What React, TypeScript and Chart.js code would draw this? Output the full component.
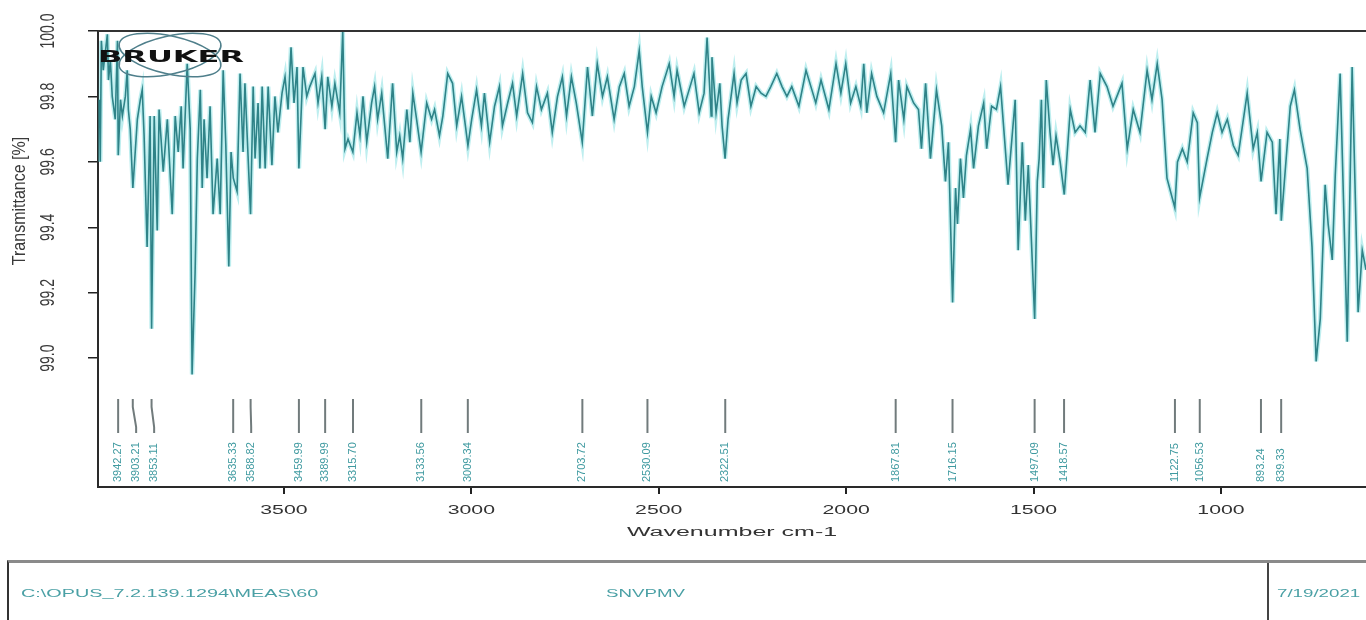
import React, { useEffect, useRef } from "react";
import { Chart, registerables } from "chart.js";

Chart.register(...registerables);

// ---- Data ----
const wavenumbers: number[] = [
  3992, 3990, 3987, 3982, 3976, 3971, 3968, 3963, 3958, 3950,
  3944, 3942, 3936, 3931, 3923, 3918, 3915, 3910, 3903, 3891,
  3883, 3878, 3873, 3865, 3857, 3853, 3846, 3838, 3833, 3822,
  3811, 3798, 3790, 3782, 3774, 3769, 3758, 3750, 3745, 3737,
  3731, 3723, 3718, 3713, 3705, 3697, 3689, 3678, 3670, 3662,
  3655, 3647, 3641, 3635, 3625, 3617, 3609, 3604, 3598, 3589,
  3582, 3577, 3569, 3564, 3558, 3550, 3542, 3532, 3524, 3516,
  3505, 3497, 3489, 3481, 3473, 3465, 3460, 3449, 3439, 3431,
  3417, 3409, 3399, 3390, 3383, 3372, 3364, 3351, 3343, 3337,
  3329, 3316, 3305, 3297, 3289, 3279, 3266, 3258, 3250, 3239,
  3231, 3223, 3210, 3199, 3191, 3183, 3172, 3164, 3156, 3146,
  3134, 3119, 3106, 3098, 3085, 3076, 3063, 3050, 3039, 3026,
  3018, 3009, 2999, 2986, 2973, 2965, 2951, 2938, 2925, 2917,
  2903, 2890, 2879, 2863, 2850, 2837, 2826, 2813, 2797, 2784,
  2770, 2757, 2746, 2733, 2720, 2704, 2690, 2677, 2664, 2650,
  2637, 2619, 2605, 2592, 2579, 2565, 2552, 2544, 2530, 2520,
  2507, 2491, 2472, 2459, 2451, 2432, 2419, 2406, 2392, 2379,
  2371, 2360, 2358, 2347, 2337, 2331, 2323, 2315, 2307, 2299,
  2291, 2280, 2267, 2254, 2240, 2227, 2214, 2201, 2185, 2171,
  2158, 2145, 2126, 2107, 2094, 2081, 2067, 2046, 2027, 2014,
  2001, 1988, 1974, 1961, 1953, 1945, 1932, 1918, 1900, 1881,
  1868, 1860, 1846, 1838, 1820, 1807, 1799, 1788, 1775, 1759,
  1745, 1735, 1727, 1716, 1708, 1703, 1695, 1687, 1679, 1668,
  1660, 1647, 1633, 1625, 1612, 1599, 1588, 1580, 1568, 1557,
  1549, 1541, 1530, 1522, 1514, 1497, 1490, 1485, 1479, 1474,
  1466, 1456, 1448, 1440, 1429, 1418, 1402, 1389, 1376, 1362,
  1349, 1336, 1322, 1304, 1288, 1264, 1250, 1234, 1216, 1197,
  1184, 1170, 1157, 1144, 1123, 1116, 1103, 1090, 1074, 1063,
  1057, 1037, 1023, 1010, 997, 983, 967, 954, 930, 914,
  903, 893, 877, 863, 853, 843, 839, 815, 804, 789,
  770, 757, 746, 735, 722, 714, 703, 695, 682, 663,
  650, 634, 623, 613,
];

const transmittance: number[] = [
  99.79, 99.6, 99.97, 99.88, 99.94, 99.99, 99.85, 99.91, 99.8, 99.73,
  99.97, 99.62, 99.79, 99.74, 99.8, 99.88, 99.76, 99.7, 99.52, 99.73,
  99.79, 99.82, 99.68, 99.34, 99.74, 99.09, 99.74, 99.39, 99.76, 99.57,
  99.73, 99.44, 99.74, 99.63, 99.77, 99.58, 99.9, 99.7, 98.95, 99.26,
  99.61, 99.82, 99.52, 99.73, 99.55, 99.77, 99.44, 99.61, 99.44, 99.88,
  99.65, 99.28, 99.63, 99.55, 99.51, 99.87, 99.63, 99.84, 99.68, 99.44,
  99.83, 99.61, 99.78, 99.58, 99.83, 99.58, 99.83, 99.59, 99.8, 99.69,
  99.81, 99.86, 99.76, 99.95, 99.78, 99.89, 99.58, 99.89, 99.8, 99.83,
  99.87, 99.78, 99.86, 99.7, 99.86, 99.77, 99.84, 99.75, 100.0, 99.64,
  99.67, 99.63, 99.75, 99.68, 99.8, 99.66, 99.78, 99.83, 99.73, 99.81,
  99.71, 99.61, 99.84, 99.63, 99.68, 99.61, 99.76, 99.66, 99.81, 99.73,
  99.63, 99.78, 99.73, 99.76, 99.68, 99.74, 99.87, 99.84, 99.71, 99.8,
  99.73, 99.65, 99.73, 99.82, 99.71, 99.81, 99.66, 99.77, 99.83, 99.71,
  99.78, 99.84, 99.74, 99.87, 99.75, 99.72, 99.83, 99.76, 99.81, 99.69,
  99.8, 99.86, 99.74, 99.86, 99.78, 99.66, 99.89, 99.74, 99.9, 99.8,
  99.86, 99.73, 99.83, 99.87, 99.77, 99.83, 99.94, 99.83, 99.69, 99.8,
  99.75, 99.83, 99.9, 99.8, 99.88, 99.77, 99.82, 99.87, 99.75, 99.81,
  99.98, 99.74, 99.92, 99.75, 99.84, 99.71, 99.61, 99.73, 99.8, 99.87,
  99.78, 99.85, 99.87, 99.77, 99.83, 99.81, 99.8, 99.83, 99.87, 99.83,
  99.8, 99.83, 99.77, 99.88, 99.83, 99.78, 99.85, 99.76, 99.9, 99.81,
  99.9, 99.78, 99.83, 99.77, 99.9, 99.75, 99.87, 99.8, 99.75, 99.87,
  99.66, 99.85, 99.73, 99.83, 99.78, 99.76, 99.64, 99.84, 99.61, 99.82,
  99.71, 99.54, 99.66, 99.17, 99.52, 99.41, 99.61, 99.49, 99.62, 99.7,
  99.58, 99.71, 99.78, 99.64, 99.77, 99.76, 99.83, 99.71, 99.53, 99.68,
  99.79, 99.33, 99.66, 99.42, 99.59, 99.12, 99.54, 99.61, 99.79, 99.52,
  99.85, 99.69, 99.59, 99.68, 99.6, 99.5, 99.76, 99.69, 99.71, 99.69,
  99.85, 99.69, 99.87, 99.83, 99.77, 99.84, 99.64, 99.76, 99.69, 99.88,
  99.79, 99.9, 99.79, 99.55, 99.46, 99.6, 99.64, 99.6, 99.75, 99.72,
  99.49, 99.61, 99.69, 99.75, 99.69, 99.73, 99.65, 99.62, 99.81, 99.64,
  99.69, 99.54, 99.69, 99.66, 99.44, 99.67, 99.42, 99.77, 99.82, 99.7,
  99.58, 99.34, 98.99, 99.12, 99.53, 99.41, 99.3, 99.56, 99.87, 99.05,
  99.89, 99.14, 99.33, 99.27,
];

const peakPositions: number[] = [
  3942.27, 3903.21, 3853.11, 3635.33, 3588.82, 3459.99, 3389.99, 3315.7,
  3133.56, 3009.34, 2703.72, 2530.09, 2322.51, 1867.81, 1716.15, 1497.09,
  1418.57, 1122.75, 1056.53, 893.24, 839.33,
];
const peakLabels: string[] = [
  "3942.27", "3903.21", "3853.11", "3635.33", "3588.82", "3459.99", "3389.99", "3315.70",
  "3133.56", "3009.34", "2703.72", "2530.09", "2322.51", "1867.81", "1716.15", "1497.09",
  "1418.57", "1122.75", "1056.53", "893.24", "839.33",
];

const xTickValues: number[] = [3500, 3000, 2500, 2000, 1500, 1000];
const xTickLabels: string[] = ["3500", "3000", "2500", "2000", "1500", "1000"];
const yTickValues: number[] = [99.0, 99.2, 99.4, 99.6, 99.8, 100.0];
const yTickLabels: string[] = ["99.0", "99.2", "99.4", "99.6", "99.8", "100.0"];

const xAxisTitle = "Wavenumber cm-1";
const yAxisTitle = "Transmittance [%]";
const logoText = "BRUKER";
const footerPath = "C:\\OPUS_7.2.139.1294\\MEAS\\60";
const footerSample = "SNVPMV";
const footerDate = "7/19/2021";

const X_MIN = 613;
const X_MAX = 3996;
const Y_MIN = 98.606;
const Y_MAX = 100.0;

const FONT = "'Liberation Sans', Arial, Helvetica, sans-serif";

const decorPlugin = {
  id: "opusDecor",
  afterDraw(chart: any) {
    const { ctx, chartArea: a, scales } = chart;
    const xs = scales.x;
    const ys = scales.y;
    ctx.save();

    // top frame line
    ctx.strokeStyle = "#333";
    ctx.lineWidth = 2;
    ctx.beginPath();
    ctx.moveTo(a.left, a.top);
    ctx.lineTo(a.right, a.top);
    ctx.stroke();

    // peak markers and labels
    let prevLabelX = -Infinity;
    peakPositions.forEach((p, i) => {
      const px = xs.getPixelForValue(p);
      const lx = Math.max(px, prevLabelX + 18);
      prevLabelX = lx;
      ctx.strokeStyle = "#717b7c";
      ctx.lineWidth = 2;
      ctx.beginPath();
      ctx.moveTo(px, a.bottom - 88);
      ctx.lineTo(px, a.bottom - 80);
      ctx.lineTo(lx, a.bottom - 60);
      ctx.lineTo(lx, a.bottom - 54);
      ctx.stroke();
      ctx.save();
      ctx.translate(lx, a.bottom - 5);
      ctx.rotate(-Math.PI / 2);
      ctx.font = `11px ${FONT}`;
      ctx.fillStyle = "#3f9aa0";
      ctx.textAlign = "left";
      ctx.textBaseline = "middle";
      ctx.fillText(peakLabels[i], 0, 0);
      ctx.restore();
    });

    // y tick labels (rotated)
    ctx.fillStyle = "#3a3a3a";
    ctx.font = `14px ${FONT}`;
    ctx.textAlign = "center";
    ctx.textBaseline = "middle";
    yTickValues.forEach((v, i) => {
      const py = ys.getPixelForValue(v);
      ctx.save();
      ctx.translate(a.left - 50, py);
      ctx.rotate(-Math.PI / 2);
      ctx.scale(1, 1.5);
      ctx.fillText(yTickLabels[i], 0, 0);
      ctx.restore();
    });

    // y title
    ctx.save();
    ctx.translate(a.left - 78, a.top + 170);
    ctx.rotate(-Math.PI / 2);
    ctx.scale(1, 1.15);
    ctx.font = `16px ${FONT}`;
    ctx.fillStyle = "#3a3a3a";
    ctx.fillText(yAxisTitle, 0, 0);
    ctx.restore();

    // x tick labels
    ctx.font = `12.5px ${FONT}`;
    ctx.fillStyle = "#333";
    xTickValues.forEach((v, i) => {
      const px = xs.getPixelForValue(v);
      ctx.save();
      ctx.translate(px, a.bottom + 24);
      ctx.scale(1.7, 1);
      ctx.fillText(xTickLabels[i], 0, 0);
      ctx.restore();
    });

    // x title
    ctx.save();
    ctx.translate((a.left + a.right) / 2, a.bottom + 46);
    ctx.scale(2.0, 1);
    ctx.font = `12.5px ${FONT}`;
    ctx.fillStyle = "#333";
    ctx.fillText(xAxisTitle, 0, 0);
    ctx.restore();

    // Bruker logo
    const cx = a.left + 72;
    const cy = a.top + 24;
    ctx.strokeStyle = "#4f7f8b";
    ctx.lineWidth = 1.5;
    ctx.beginPath();
    ctx.ellipse(cx, cy, 52, 19, 0.22, 0, Math.PI * 2);
    ctx.stroke();
    ctx.beginPath();
    ctx.ellipse(cx, cy, 52, 19, -0.22, 0, Math.PI * 2);
    ctx.stroke();
    ctx.save();
    ctx.font = `bold 16px 'DejaVu Sans', ${FONT}`;
    const w = ctx.measureText(logoText).width;
    ctx.translate(a.left, a.top + 31);
    ctx.scale(146 / w, 1);
    ctx.fillStyle = "#111";
    ctx.textAlign = "left";
    ctx.textBaseline = "alphabetic";
    ctx.fillText(logoText, 0, 0);
    ctx.restore();

    ctx.restore();
  },
};

export default function App() {
  const canvasRef = useRef<HTMLCanvasElement | null>(null);

  useEffect(() => {
    const canvas = canvasRef.current;
    if (!canvas) return;
    const points = wavenumbers.map((wn, i) => ({ x: wn, y: transmittance[i] }));
    const chart = new Chart(canvas, {
      type: "line",
      data: {
        datasets: [
          {
            data: points,
            borderColor: "#2f8388",
            borderWidth: 1.6,
            pointRadius: 0,
            tension: 0,
            fill: false,
          },
          {
            data: points,
            borderColor: "rgba(70, 205, 210, 0.35)",
            borderWidth: 4.5,
            pointRadius: 0,
            tension: 0,
            fill: false,
          },
        ],
      },
      options: {
        responsive: false,
        animation: false,
        events: [],
        layout: { padding: { top: 31, left: 0, right: 0, bottom: 73 } },
        plugins: {
          legend: { display: false },
          tooltip: { enabled: false },
        },
        scales: {
          x: {
            type: "linear",
            min: X_MIN,
            max: X_MAX,
            reverse: true,
            afterBuildTicks: (s: any) => {
              s.ticks = xTickValues.map((v) => ({ value: v }));
            },
            afterFit: (s: any) => {
              s.height = 60;
            },
            ticks: { display: false },
            grid: {
              drawOnChartArea: false,
              drawTicks: true,
              tickLength: 7,
              color: "#222",
              lineWidth: 2,
            },
            border: { display: true, color: "#2a2a2a", width: 2 },
          },
          y: {
            type: "linear",
            min: Y_MIN,
            max: Y_MAX,
            afterBuildTicks: (s: any) => {
              s.ticks = yTickValues.map((v) => ({ value: v }));
            },
            afterFit: (s: any) => {
              s.width = 98;
            },
            ticks: { display: false },
            grid: {
              drawOnChartArea: false,
              drawTicks: true,
              tickLength: 10,
              color: "#222",
              lineWidth: 1.5,
            },
            border: { display: true, color: "#2a2a2a", width: 2 },
          },
        },
      },
      plugins: [decorPlugin],
    } as any);
    return () => chart.destroy();
  }, []);

  const footerText: React.CSSProperties = {
    position: "absolute",
    top: 27,
    fontFamily: FONT,
    fontSize: 11,
    lineHeight: "12px",
    color: "#4aa0a5",
    whiteSpace: "nowrap",
    transformOrigin: "left center",
    transform: "scaleX(1.8)",
  };

  return (
    <div
      style={{
        position: "fixed",
        left: 0,
        top: 0,
        width: 1366,
        height: 620,
        background: "#fff",
        overflow: "hidden",
      }}
    >
      <canvas ref={canvasRef} width={1366} height={620} style={{ display: "block", width: 1366, height: 620 }} />
      <div
        style={{
          position: "absolute",
          left: 7,
          top: 560,
          width: 1366 - 7,
          height: 70,
          borderTop: "3px solid #8a8a8a",
          borderLeft: "2px solid #333",
          boxSizing: "border-box",
        }}
      >
        <div style={{ position: "absolute", left: 1258, top: 0, height: 70, borderLeft: "2px solid #444" }} />
        <span style={{ ...footerText, left: 12, top: 24 }}>{footerPath}</span>
        <span style={{ ...footerText, left: 597, top: 24, transform: "scaleX(1.7)" }}>{footerSample}</span>
        <span style={{ ...footerText, left: 1268, top: 24, transform: "scaleX(1.7)" }}>{footerDate}</span>
      </div>
    </div>
  );
}
